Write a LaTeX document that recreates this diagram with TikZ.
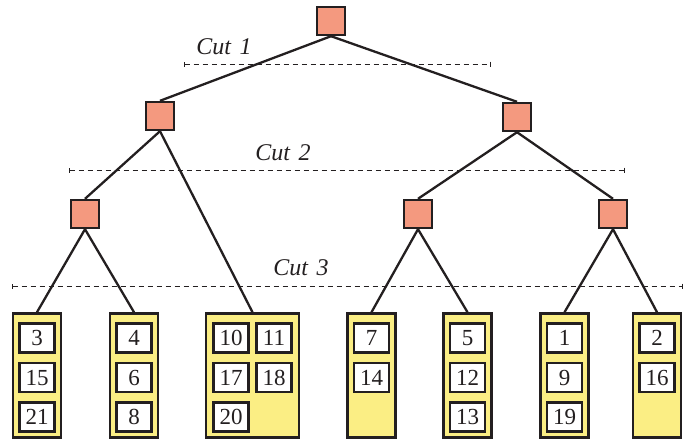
\documentclass[tikz,border=0pt]{standalone}
\usepackage{fontspec}
\setmainfont{Liberation Serif}
\usetikzlibrary{positioning, arrows.meta}
\definecolor{salmon}{HTML}{F4997F}
\definecolor{leafyellow}{HTML}{FBEE84}
\definecolor{edgegray}{HTML}{231F20}

\begin{document}
\begin{tikzpicture}[x=1pt, y=-1pt,
    tnode/.style={draw=edgegray, fill=salmon, line width=2.4pt, minimum size=28pt, inner sep=0pt},
    leaf/.style={draw=edgegray, fill=leafyellow, line width=2.6pt, minimum height=124pt, minimum width=48pt, inner sep=0pt},
    item/.style={draw=edgegray, fill=white, line width=2.6pt, minimum width=35pt, minimum height=29pt, inner sep=0pt, text=edgegray, font=\fontsize{23}{23}\selectfont},
    edge/.style={draw=edgegray, line width=2.3pt},
    cut/.style={draw=edgegray, line width=0.9pt, dash pattern=on 5pt off 4pt, {Bar[width=5pt]}-{Bar[width=5pt]}},
    cutlabel/.style={text=edgegray, font=\fontsize{24}{24}\selectfont\itshape}
]
\useasboundingbox (0,0) rectangle (697,440);

% tree
\node[tnode] (root) at (331,21) {};
\node[tnode] (l) at (160,116) {};
\node[tnode] (r) at (517,117) {};
\node[tnode] (ll) at (85,214) {};
\node[tnode] (rl) at (418,214) {};
\node[tnode] (rr) at (613,214) {};

% leaves
\node[leaf] (b1) at (37,375.5) {};
\node[leaf] (b2) at (134,375.5) {};
\node[leaf, minimum width=93pt] (b3) at (252.5,375.5) {};
\node[leaf] (b4) at (371.5,375.5) {};
\node[leaf] (b5) at (467.5,375.5) {};
\node[leaf] (b6) at (564.5,375.5) {};
\node[leaf] (b7) at (657,375.5) {};

% records in the leaves
\node[item, below=10pt of b1.north] (b1a) {3};
\node[item, below=8pt of b1a] (b1b) {15};
\node[item, below=8pt of b1b] (b1c) {21};

\node[item, below=10pt of b2.north] (b2a) {4};
\node[item, below=8pt of b2a] (b2b) {6};
\node[item, below=8pt of b2b] (b2c) {8};

\node[item, below=10pt of b3.north, xshift=-21.5pt] (b3a) {10};
\node[item, below=10pt of b3.north, xshift=21.5pt] (b3b) {11};
\node[item, below=8pt of b3a] (b3c) {17};
\node[item, below=8pt of b3b] (b3d) {18};
\node[item, below=8pt of b3c] (b3e) {20};

\node[item, below=10pt of b4.north] (b4a) {7};
\node[item, below=8pt of b4a] (b4b) {14};

\node[item, below=10pt of b5.north] (b5a) {5};
\node[item, below=8pt of b5a] (b5b) {12};
\node[item, below=8pt of b5b] (b5c) {13};

\node[item, below=10pt of b6.north] (b6a) {1};
\node[item, below=8pt of b6a] (b6b) {9};
\node[item, below=8pt of b6b] (b6c) {19};

\node[item, below=10pt of b7.north] (b7a) {2};
\node[item, below=8pt of b7a] (b7b) {16};

% edges
\draw[edge] (root.south) -- (l.north);
\draw[edge] (root.south) -- (r.north);
\draw[edge] (l.south) -- (ll.north);
\draw[edge] (l.south) -- (b3.north);
\draw[edge] (r.south) -- (rl.north);
\draw[edge] (r.south) -- (rr.north);
\draw[edge] (ll.south) -- (b1.north);
\draw[edge] (ll.south) -- (b2.north);
\draw[edge] (rl.south) -- (b4.north);
\draw[edge] (rl.south) -- (b5.north);
\draw[edge] (rr.south) -- (b6.north);
\draw[edge] (rr.south) -- (b7.north);

% cuts
\coordinate (c1a) at (184,64);
\coordinate (c1b) at (491,64);
\coordinate (c2a) at (69,170);
\coordinate (c2b) at (625,170);
\coordinate (c3a) at (12,286);
\coordinate (c3b) at (683,286);
\draw[cut] (c1a) -- (c1b);
\draw[cut] (c2a) -- (c2b);
\draw[cut] (c3a) -- (c3b);
\node[cutlabel] (cut1) at (224,47) {Cut\hspace{0.35em}1};
\node[cutlabel] (cut2) at (283,153) {Cut\hspace{0.35em}2};
\node[cutlabel] (cut3) at (301,268) {Cut\hspace{0.35em}3};

\end{tikzpicture}
\end{document}
